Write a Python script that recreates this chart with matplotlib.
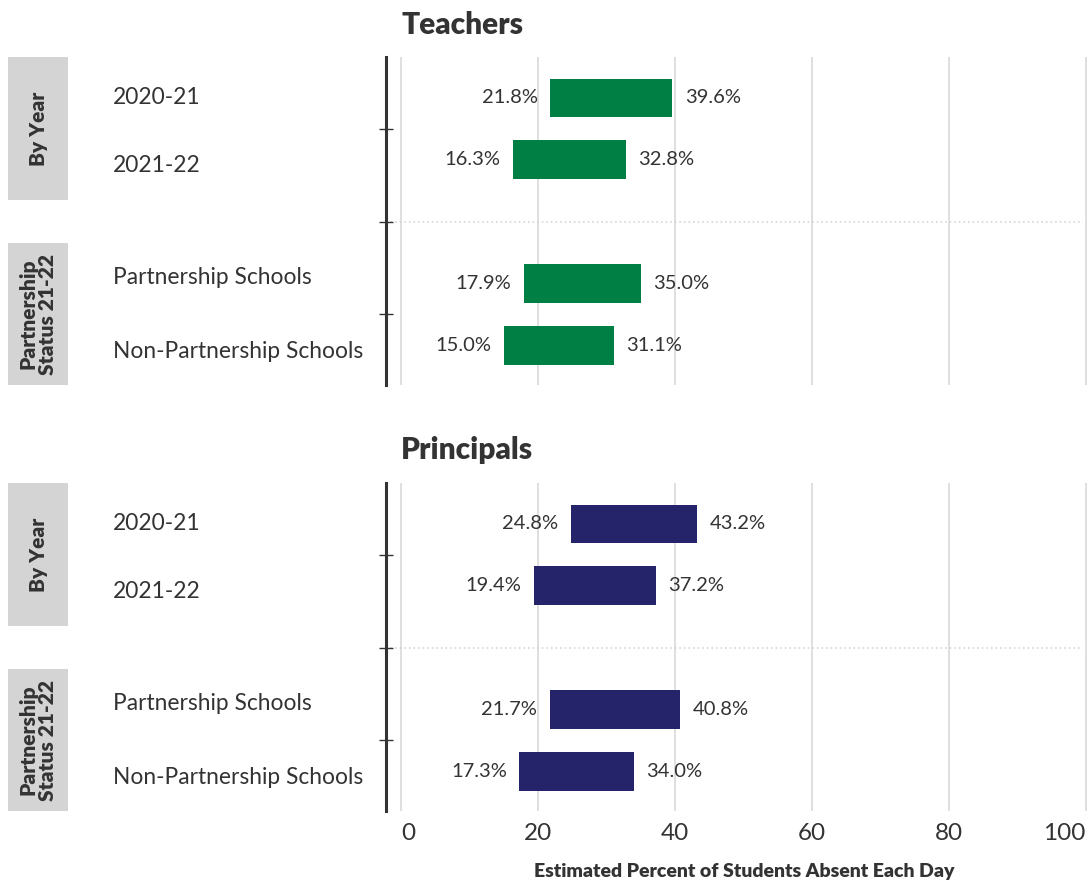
import matplotlib
matplotlib.use("Agg")
import matplotlib.pyplot as plt
import matplotlib.transforms as mtransforms
from matplotlib.patches import Rectangle

plt.rcParams["font.family"] = ["Lato", "DejaVu Sans"]

# Data
categories = ["2020-21", "2021-22", "Partnership Schools", "Non-Partnership Schools"]
groups = ["By Year", "Partnership\nStatus 21-22"]
panels = ["Teachers", "Principals"]
teachers_low = [21.8, 16.3, 17.9, 15.0]
teachers_high = [39.6, 32.8, 35.0, 31.1]
principals_low = [24.8, 19.4, 21.7, 17.3]
principals_high = [43.2, 37.2, 40.8, 34.0]
x_ticks = [0, 20, 40, 60, 80, 100]
x_label = "Estimated Percent of Students Absent Each Day"

colors = ["#007f45", "#25236a"]
TEXT = "#333333"

# Layout: row slots with a gap slot between the two groups
row_pos = [0, 1, 3, 4]
label_pos = [0, 1.1, 2.9, 4.1]
sep_pos = 2
tick_pos = [0.5, 2, 3.5]
ylim = (4.64, -0.66)

W, H = 1090, 882
fig = plt.figure(figsize=(W / 100, H / 100), dpi=100)

axes_rects = [
    [386 / W, 1 - 385 / H, (1087 - 386) / W, (385 - 57) / H],
    [386 / W, 1 - 811 / H, (1087 - 386) / W, (811 - 483) / H],
]
title_y = [25, 450]

data = [(teachers_low, teachers_high), (principals_low, principals_high)]

for i, (rect, (lows, highs)) in enumerate(zip(axes_rects, data)):
    ax = fig.add_axes(rect)
    ax.set_xlim(-2.2, 100.2)
    ax.set_ylim(*ylim)

    # vertical gridlines
    for xv in x_ticks:
        ax.axvline(xv, color="#d9d9d9", lw=1.2, zorder=0)
    # dotted group separator
    ax.axhline(sep_pos, xmin=0, xmax=0.995, color="#cfcfcf", lw=1.1,
               linestyle=(0, (1, 2)), zorder=0)

    widths = [h - l for l, h in zip(lows, highs)]
    ax.barh(row_pos, widths, left=lows, height=0.625, color=colors[i], zorder=2)

    for y, l, h in zip(row_pos, lows, highs):
        ax.annotate(f"{l:.1f}%", (l, y), xytext=(-9, 0), textcoords="offset points",
                    ha="right", va="center", fontsize=14.5, color=TEXT)
        ax.annotate(f"{h:.1f}%", (h, y), xytext=(9, 0), textcoords="offset points",
                    ha="left", va="center", fontsize=14.5, color=TEXT)

    for s in ["top", "right", "bottom"]:
        ax.spines[s].set_visible(False)
    ax.spines["left"].set_color(TEXT)
    ax.spines["left"].set_linewidth(2.2)

    ax.set_yticks(tick_pos)
    ax.set_yticklabels([])
    ax.tick_params(axis="y", direction="inout", length=9.5, width=1, color=TEXT)

    ax.set_xticks(x_ticks)
    if i == 0:
        ax.tick_params(axis="x", length=0, labelbottom=False)
    else:
        ax.tick_params(axis="x", length=0, pad=9)
        labels = ax.set_xticklabels([str(t) for t in x_ticks], fontsize=17.5,
                                    color=TEXT, fontweight="normal")
        labels[0].set_ha("left")
        labels[-1].set_ha("right")

    # category labels at the left
    trans = mtransforms.blended_transform_factory(fig.transFigure, ax.transData)
    for cat, y in zip(categories, label_pos):
        ax.text(113 / W, y, cat, transform=trans, ha="left", va="center",
                fontsize=16.4, color=TEXT, clip_on=False)

    # grey group boxes with rotated labels
    spans = [(ylim[1], sep_pos - 0.35), (sep_pos + 0.35, ylim[0])]
    for g, (y0, y1) in zip(groups, spans):
        ax.add_patch(Rectangle((8 / W, y0), 60 / W, y1 - y0, transform=trans,
                               facecolor="#d4d4d4", edgecolor="none",
                               clip_on=False, zorder=1))
        ax.text(38 / W, (y0 + y1) / 2, g, transform=trans, rotation=90,
                ha="center", va="center", fontsize=15, fontweight="heavy",
                color=TEXT, linespacing=1.05, clip_on=False, zorder=3)

    fig.text(401 / W, 1 - title_y[i] / H, panels[i], ha="left", va="center",
             fontsize=21.5, fontweight="heavy", color=TEXT)

fig.text(744 / W, 1 - 871 / H, x_label, ha="center", va="center",
         fontsize=14, fontweight="heavy", color=TEXT)

fig.savefig("out.png", dpi=100)
